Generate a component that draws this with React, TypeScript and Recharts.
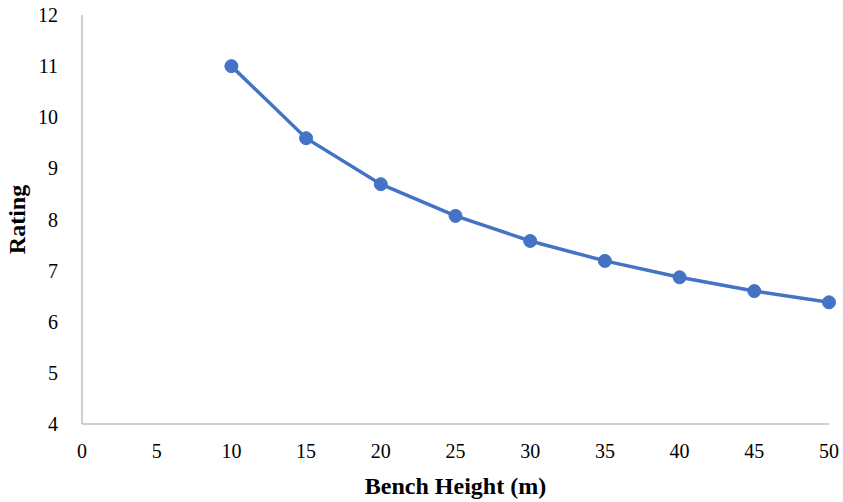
import { LineChart, Line, XAxis, YAxis, Label } from 'recharts'

const benchHeights = [10, 15, 20, 25, 30, 35, 40, 45, 50]
const ratings = [11.0, 9.59, 8.69, 8.07, 7.58, 7.19, 6.87, 6.6, 6.38]
const xTicks = [0, 5, 10, 15, 20, 25, 30, 35, 40, 45, 50]
const yTicks = [4, 5, 6, 7, 8, 9, 10, 11, 12]

const data = benchHeights.map((h, i) => ({ h, rating: ratings[i] }))

const FONT = '"Liberation Serif", "Times New Roman", serif'
const tickStyle = { fill: '#000', fontSize: 20, fontFamily: FONT }

export default function App() {
  return (
    <div style={{ position: 'absolute', left: 0, top: 0, background: '#fff' }}>
      <LineChart width={843} height={502} data={data} margin={{ top: 15, right: 14, left: 0, bottom: 0 }}>
        <XAxis
          dataKey="h"
          type="number"
          domain={[0, 50]}
          ticks={xTicks}
          tick={tickStyle}
          tickLine={false}
          axisLine={{ stroke: '#bfbfbf', strokeWidth: 1.5 }}
          tickMargin={14}
          height={78}
        >
          <Label
            value="Bench Height (m)"
            position="insideBottom"
            offset={8}
            style={{ fill: '#000', fontSize: 24, fontWeight: 'bold', fontFamily: FONT }}
          />
        </XAxis>
        <YAxis
          type="number"
          domain={[4, 12]}
          ticks={yTicks}
          tick={tickStyle}
          tickLine={false}
          axisLine={{ stroke: '#bfbfbf', strokeWidth: 1.5 }}
          tickMargin={18}
          width={82}
        >
          <Label
            value="Rating"
            angle={-90}
            position="insideLeft"
            offset={16}
            style={{ fill: '#000', fontSize: 24, fontWeight: 'bold', fontFamily: FONT, textAnchor: 'middle' }}
          />
        </YAxis>
        <Line
          type="linear"
          dataKey="rating"
          stroke="#4472c4"
          strokeWidth={3.5}
          dot={{ r: 6.5, fill: '#4472c4', stroke: '#4472c4', strokeWidth: 1 }}
          isAnimationActive={false}
        />
      </LineChart>
    </div>
  )
}
